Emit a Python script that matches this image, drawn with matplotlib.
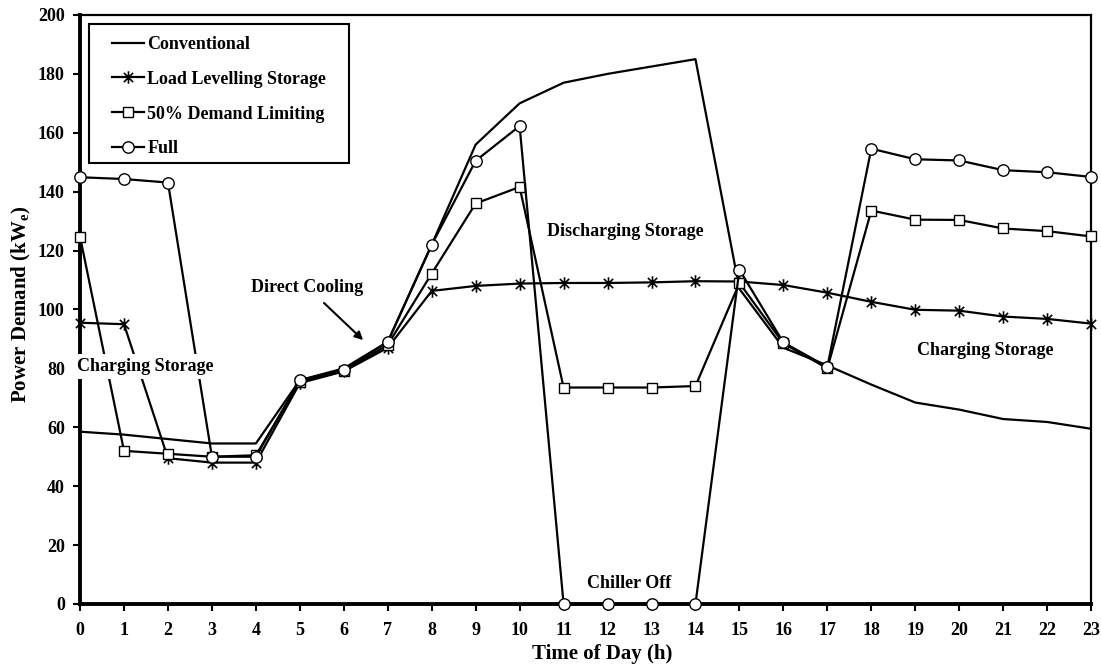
import matplotlib
matplotlib.use('Agg')
import matplotlib.pyplot as plt
from matplotlib.path import Path
from matplotlib.patches import Rectangle

plt.rcParams['font.family'] = ['Liberation Serif', 'DejaVu Serif']
plt.rcParams['font.weight'] = 'bold'
plt.rcParams['mathtext.fontset'] = 'custom'
plt.rcParams['mathtext.rm'] = 'Liberation Serif:bold'
plt.rcParams['mathtext.bf'] = 'Liberation Serif:bold'

hours = list(range(24))

conventional = [58.5, 57.5, 56, 54.5, 54.5, 76, 80, 89, 122, 156, 170, 177,
                180, 182.5, 185, 107, 87, 81, 74.5, 68.4, 66, 62.8, 61.8, 59.5]
load_levelling = [95.5, 95, 49.5, 48, 48, 75, 79, 87, 106.3, 108, 108.8, 109,
                  109, 109.2, 109.6, 109.5, 108.3, 105.7, 102.6, 99.9, 99.6, 97.6, 96.8, 95.2]
demand_limiting = [124.7, 52, 51, 50, 50.5, 75.5, 79, 88, 112.2, 136, 141.6, 73.5,
                   73.5, 73.5, 74, 109, 88.5, 80, 133.6, 130.5, 130.4, 127.5, 126.6, 124.8]
full = [144.9, 144.3, 143.1, 50, 50, 76, 79.5, 89, 122, 150.5, 162.3, 0,
        0, 0, 0, 113.5, 88.8, 80.5, 154.6, 151, 150.6, 147.3, 146.6, 145]

# six-armed asterisk like the spreadsheet marker
star = Path([(-1, -1), (1, 1), (-1, 1), (1, -1), (0, -1.35), (0, 1.35)],
            [Path.MOVETO, Path.LINETO] * 3)

fig = plt.figure(figsize=(11.01, 6.69), dpi=100)
ax = fig.add_axes([0.0727, 0.0972, 0.9183, 0.8804])

ax.plot(hours, conventional, color='black', lw=1.6, label='Conventional', zorder=3)
ax.plot(hours, load_levelling, color='black', lw=1.6, marker=star, ms=9,
        mfc='none', mec='black', mew=1.2, label='Load Levelling Storage', zorder=4, clip_on=False)
ax.plot(hours, demand_limiting, color='black', lw=1.6, marker='s', ms=7.5,
        mfc='white', mec='black', mew=1.0, label='50% Demand Limiting', zorder=5, clip_on=False)
ax.plot(hours, full, color='black', lw=1.6, marker='o', ms=8.2,
        mfc='white', mec='black', mew=1.0, label='Full', zorder=6, clip_on=False)

ax.set_xlim(0, 23)
ax.set_ylim(0, 200)
ax.set_xticks(hours)
ax.set_yticks(range(0, 201, 20))
ax.tick_params(axis='x', direction='out', length=5, width=1.5, labelsize=13, pad=8)
ax.tick_params(axis='y', direction='out', length=5, width=1.5, labelsize=13, pad=6)
for lbl in ax.get_xticklabels() + ax.get_yticklabels():
    lbl.set_fontweight('bold')

for side in ['left', 'bottom']:
    ax.spines[side].set_linewidth(2.8)
for side in ['top', 'right']:
    ax.spines[side].set_linewidth(1.6)

ax.set_xlabel('Time of Day (h)', fontsize=15, fontweight='bold')
ax.set_ylabel(r'Power Demand (kW$_\mathrm{e}$)', fontsize=15, fontweight='bold')
ax.xaxis.set_label_coords(0.516, -0.068)
ax.yaxis.set_label_coords(-0.047, 0.508)

# legend frame drawn on its own so the handles can sit further in
ax.add_patch(Rectangle((0.0089, 0.7487), 0.2572, 0.236, transform=ax.transAxes,
                       facecolor='white', edgecolor='black', lw=1.5, zorder=8))
leg = ax.legend(loc='upper left', bbox_to_anchor=(0.0317, 0.9646), fontsize=13,
                frameon=False, handlelength=1.75, handletextpad=0.2, borderpad=0,
                labelspacing=0.99, borderaxespad=0)
leg.set_zorder(9)
for t in leg.get_texts():
    t.set_fontweight('bold')

ax.text(1.48, 80.6, 'Charging Storage', fontsize=13, fontweight='bold', ha='center', va='center',
        bbox=dict(facecolor='white', edgecolor='none', pad=3), zorder=7, clip_on=False)
ax.text(20.6, 86.2, 'Charging Storage', fontsize=13, fontweight='bold', ha='center', va='center', zorder=7)
ax.text(12.4, 126.4, 'Discharging Storage', fontsize=13, fontweight='bold', ha='center', va='center', zorder=7)
ax.text(12.5, 7, 'Chiller Off', fontsize=13, fontweight='bold', ha='center', va='center', zorder=7)
ax.text(5.16, 107.6, 'Direct Cooling', fontsize=13, fontweight='bold', ha='center', va='center', zorder=7)
ax.annotate('', xy=(6.44, 89.6), xytext=(5.55, 102.2), zorder=7,
            arrowprops=dict(arrowstyle='-|>', color='black', lw=1.5, shrinkA=0, shrinkB=0,
                            mutation_scale=12))

fig.savefig('out.png', dpi=100)
